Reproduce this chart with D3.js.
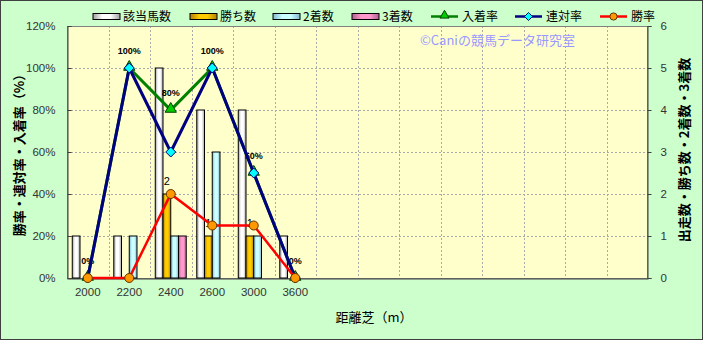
<!DOCTYPE html>
<html>
<head>
<meta charset="utf-8">
<script src="https://cdn.jsdelivr.net/npm/d3@7"></script>
<style>
body{margin:0;padding:0;background:#fff;}
text{font-family:"Liberation Sans","DejaVu Sans",sans-serif;}
.jp{font-family:"Noto Sans CJK JP","Noto Sans",sans-serif;}
</style>
</head>
<body>
<svg id="chart" width="703" height="340"></svg>
<script>
// data
var distances = ["2000","2200","2400","2600","3000","3600"];
var runs      = [1,1,5,4,4,1];      // 該当馬数
var wins      = [0,0,2,1,1,0];      // 勝ち数
var seconds   = [0,1,1,3,1,0];      // 2着数
var thirds    = [0,0,1,0,0,0];      // 3着数
var placeRate = [0,100,80,100,50,0];   // 入着率
var rentaiRate= [0,100,60,100,50,0];   // 連対率
var winRate   = [0,0,40,25,25,0];      // 勝率
var barNames  = ["該当馬数","勝ち数","2着数","3着数"];
var lineNames = ["入着率","連対率","勝率"];
var slotCount = 14;  // the category axis has empty slots after 3600

var W=703,H=340;
var pL=67,pR=648,pT=26,pB=278;   // plot box
var svg=d3.select("#chart");

// gradients like the excel bars
var defs=svg.append("defs");
var barCols=[["#a0a0a0","#ffffff"],["#b08000","#ffcc00"],["#80b8d0","#ccffff"],["#b06090","#ff99cc"]];
barCols.forEach(function(c,i){
	var g=defs.append("linearGradient").attr("id","bg"+i).attr("x1","0").attr("x2","1").attr("y1","0").attr("y2","0");
	g.append("stop").attr("offset","0%").attr("stop-color",c[0]);
	g.append("stop").attr("offset","35%").attr("stop-color",c[1]);
	g.append("stop").attr("offset","65%").attr("stop-color",c[1]);
	g.append("stop").attr("offset","100%").attr("stop-color",c[0]);
});

svg.append("rect").attr("x",0.5).attr("y",0.5).attr("width",W-1).attr("height",H-1)
	.attr("fill","#ccffcc").attr("stroke","#404040");

var x=d3.scaleBand().domain(d3.range(slotCount)).range([pL,pR]);
var xs=d3.scaleBand().domain(barNames).range([0,x.bandwidth()]).paddingOuter(0.68);
var yL=d3.scaleLinear().domain([0,120]).range([pB,pT]);
var yR=d3.scaleLinear().domain([0,6]).range([pB,pT]);

// plot area
svg.append("rect").attr("x",pL).attr("y",pT).attr("width",pR-pL).attr("height",pB-pT)
	.attr("fill","#ffffcc");

// grid
svg.append("g").selectAll("line").data(yL.ticks(6).filter(function(d){return d>0&&d<120;}))
	.enter().append("line")
	.attr("x1",pL).attr("x2",pR)
	.attr("y1",function(d){return Math.round(yL(d))+0.5;}).attr("y2",function(d){return Math.round(yL(d))+0.5;})
	.attr("stroke","#aaa").attr("stroke-dasharray","2,2");
svg.append("g").selectAll("line").data(d3.range(1,slotCount))
	.enter().append("line")
	.attr("x1",function(d){return Math.round(x(d))+0.5;}).attr("x2",function(d){return Math.round(x(d))+0.5;})
	.attr("y1",pT).attr("y2",pB)
	.attr("stroke","#aaa").attr("stroke-dasharray","2,2");

svg.append("rect").attr("x",pL+0.5).attr("y",pT+0.5).attr("width",pR-pL-1).attr("height",pB-pT)
	.attr("fill","none").attr("stroke","#808080");

// axes
var axL=svg.append("g").attr("transform","translate("+(pL+0.5)+",0)")
	.call(d3.axisLeft(yL).ticks(6).tickSize(-4).tickPadding(12).tickFormat(function(d){return d+"%";}));
var axR=svg.append("g").attr("transform","translate("+(pR-0.5)+",0)")
	.call(d3.axisRight(yR).ticks(6).tickSize(4).tickPadding(9));
var axB=svg.append("g").attr("transform","translate(0,"+(pB+0.5)+")")
	.call(d3.axisBottom(x).tickSize(0).tickPadding(9).tickFormat(function(d){return distances[d]||"";}));
[axL,axR,axB].forEach(function(a){
	a.select(".domain").attr("stroke","#404040");
	a.selectAll(".tick line").attr("stroke","#404040");
	a.selectAll("text").attr("fill","#333").style("font-size","11.5px");
});

// bars
var barSets=[runs,wins,seconds,thirds];
barSets.forEach(function(vals,s){
	svg.append("g").selectAll("rect")
		.data(vals.map(function(v,i){return {i:i,v:v};}).filter(function(d){return d.v>0;}))
		.enter().append("rect")
		.attr("x",function(d){return x(d.i)+xs(barNames[s]);})
		.attr("width",xs.bandwidth())
		.attr("y",function(d){return yR(d.v);})
		.attr("height",function(d){return yR(0)-yR(d.v);})
		.attr("fill","url(#bg"+s+")")
		.attr("stroke","#000").attr("stroke-width",1);
});

// data labels (drawn below the lines like the original)
svg.append("g").selectAll("text")
	.data(wins.map(function(v,i){return {i:i,v:v};}).filter(function(d){return d.v>0;}))
	.enter().append("text")
	.attr("x",function(d){return x(d.i)+xs("勝ち数")+xs.bandwidth()/2;})
	.attr("y",function(d){return yR(d.v)-9;})
	.attr("text-anchor","middle").style("font-size","11px")
	.text(function(d){return d.v;});
svg.append("g").selectAll("text")
	.data(placeRate)
	.enter().append("text")
	.attr("x",function(d,i){return x(i)+x.bandwidth()/2;})
	.attr("y",function(d){return yL(d)-14;})
	.attr("text-anchor","middle").style("font-size","9px").style("font-weight","bold")
	.text(function(d){return d+"%";});

// lines
var lineSets=[
	{vals:placeRate,color:"#008000",marker:"tri"},
	{vals:rentaiRate,color:"#000080",marker:"dia"},
	{vals:winRate,color:"#ff0000",marker:"cir"}];
var line=d3.line().x(function(d,i){return x(i)+x.bandwidth()/2;}).y(function(d){return yL(d);});

function drawMarker(g,type,cx,cy,k){
	k=k||1;
	if(type=="tri"){
		g.append("path").attr("d",d3.symbol().type(d3.symbolTriangle).size(55*k*k)())
			.attr("transform","translate("+cx+","+(cy-1)+")")
			.attr("fill","#00cc00").attr("stroke","#004000").attr("stroke-width",1);
	}
	if(type=="dia"){
		g.append("path").attr("d","M0,-5L5,0L0,5L-5,0Z")
			.attr("transform","translate("+cx+","+cy+") scale("+k+")")
			.attr("fill","#00ffff").attr("stroke","#000080").attr("stroke-width",1/k);
	}
	if(type=="cir"){
		g.append("circle").attr("cx",cx).attr("cy",cy).attr("r",4.5*k)
			.attr("fill","#ff9900").attr("stroke","#663300").attr("stroke-width",1);
	}
}

lineSets.forEach(function(s){
	var g=svg.append("g");
	g.append("path").datum(s.vals).attr("d",line)
		.attr("fill","none").attr("stroke",s.color).attr("stroke-width",s.marker=="cir"?2.5:3);
	s.vals.forEach(function(v,i){drawMarker(g,s.marker,x(i)+x.bandwidth()/2,yL(v));});
});

// copyright note
svg.append("text").attr("class","jp").attr("x",420).attr("y",45)
	.style("font-size","13px").attr("fill","#9999ff").text("©Caniの競馬データ研究室");

// legend
var legX=[93,190,273,352];
barNames.forEach(function(n,i){
	svg.append("rect").attr("x",legX[i]).attr("y",13.5).attr("width",27).attr("height",6)
		.attr("fill","url(#bg"+i+")").attr("stroke","#000");
	svg.append("text").attr("class","jp").attr("x",legX[i]+30).attr("y",21)
		.style("font-size","12px").attr("fill","#000").text(n);
});
var legLX=[431,515,600];
lineNames.forEach(function(n,i){
	var g=svg.append("g");
	g.append("line").attr("x1",legLX[i]).attr("x2",legLX[i]+27).attr("y1",16.5).attr("y2",16.5)
		.attr("stroke",lineSets[i].color).attr("stroke-width",2.5);
	drawMarker(g,lineSets[i].marker,legLX[i]+13.5,16.5,0.8);
	svg.append("text").attr("class","jp").attr("x",legLX[i]+31).attr("y",21)
		.style("font-size","12px").attr("fill","#000").text(n);
});

// axis titles
svg.append("text").attr("class","jp").attr("transform","translate(24,152) rotate(-90)")
	.attr("text-anchor","middle").style("font-size","13px").style("font-weight","bold")
	.text("勝率・連対率・入着率（%）");
svg.append("text").attr("class","jp").attr("transform","translate(689,150) rotate(-90)")
	.attr("text-anchor","middle").style("font-size","13px").style("font-weight","bold")
	.text("出走数・勝ち数・2着数・3着数");
svg.append("text").attr("class","jp").attr("x",374).attr("y",322)
	.attr("text-anchor","middle").style("font-size","13px").text("距離芝（m）");
</script>
</body>
</html>
